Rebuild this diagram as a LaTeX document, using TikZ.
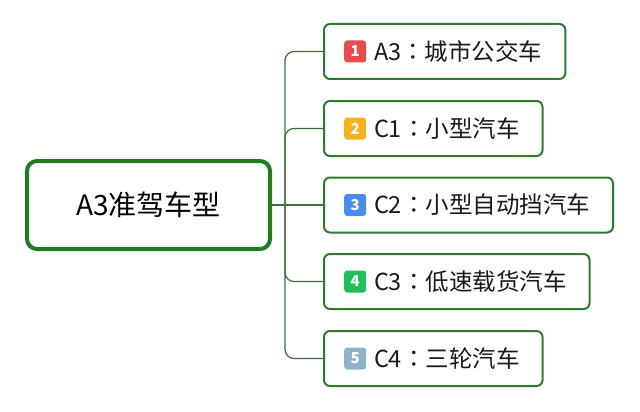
\documentclass[tikz,border=0pt]{standalone}
\usepackage{fontspec}
\setmainfont{Noto Sans CJK SC}
\newfontfamily\colonfont{Noto Sans CJK TC}
\newcommand{\sep}{{\colonfont ：}}
\usetikzlibrary{positioning}
\definecolor{rootgreen}{HTML}{1F7D1F}
\definecolor{leafgreen}{HTML}{2F7A2F}
\definecolor{linkgreen}{HTML}{3C6E3C}
\definecolor{badgered}{HTML}{E84B4B}
\definecolor{badgeorange}{HTML}{F5B21C}
\definecolor{badgeblue}{HTML}{4A8CEE}
\definecolor{badgegreen}{HTML}{22BE5A}
\definecolor{badgegray}{HTML}{8DB3C6}

\begin{document}
\begin{tikzpicture}[
      x=1pt,y=-1pt,
      rootbox/.style={
         draw=rootgreen,
         line width=4pt,
         rounded corners=10pt,
         minimum width=243pt,
         minimum height=88pt,
         font=\fontsize{28}{31}\selectfont},
      leaf/.style={
         draw=leafgreen,
         line width=2pt,
         rounded corners=6pt,
         anchor=west,
         minimum height=55pt,
         inner xsep=23pt,
         text=black!90,
         font=\fontsize{23.5}{27}\selectfont},
      badge/.style={
         rounded corners=3pt,
         minimum size=22pt,
         inner sep=0pt,
         text=white,
         font=\fontsize{15}{16}\selectfont\bfseries},
      link/.style={draw=linkgreen,line width=1.2pt,rounded corners=9pt},
      node distance=22pt and 22pt
      ]
      \useasboundingbox (0,0) rectangle (640,412);

      \node[rootbox] (root) at (148.5,205) {A3准驾车型};

      \node[leaf] (c1) at (323,51.5) {\hspace*{27pt}A3\sep 城市公交车};
      \node[leaf] (c2) at (323,128.5) {\hspace*{27pt}C1\sep 小型汽车};
      \node[leaf] (c3) at (323,205) {\hspace*{27pt}C2\sep 小型自动挡汽车};
      \node[leaf] (c4) at (323,281.5) {\hspace*{27pt}C3\sep 低速载货汽车};
      \node[leaf] (c5) at (323,358.5) {\hspace*{27pt}C4\sep 三轮汽车};

      \coordinate (hub) at (285,205);

    \foreach \c/\num/\col in {% box/number/colour
      c1/1/badgered,
      c2/2/badgeorange,
      c3/3/badgeblue,
      c4/4/badgegreen,
      c5/5/badgegray}
       \node[badge,fill=\col,right=21pt of \c.west] (n\num) {\num};

      \draw[link] (root.east) -- (c3.west);
    \foreach \c in {c1,c2,c4,c5}
       \draw[link] (hub) |- (\c.west);

    \end{tikzpicture}
\end{document}
